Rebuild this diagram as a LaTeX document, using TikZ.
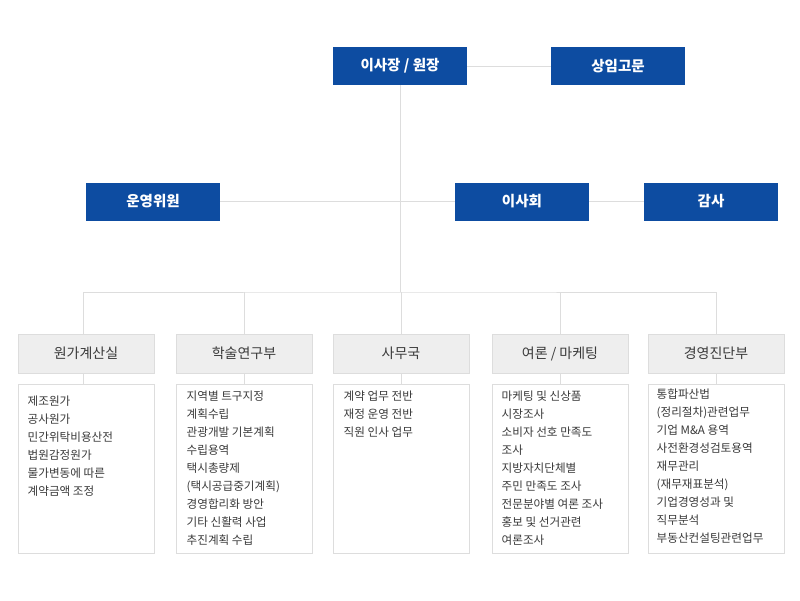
\documentclass[tikz,border=0pt]{standalone}
\usepackage{fontspec}
\setmainfont{Noto Sans CJK KR}
\usepackage{tikz}
\usetikzlibrary{positioning}
\usepackage{xcolor}

\definecolor{orgblue}{HTML}{0D4CA1}
\definecolor{linegray}{HTML}{DDDDDD}
\definecolor{headgray}{HTML}{EEEEEE}
\definecolor{textgray}{HTML}{3A3A3A}

\tikzset{
    topbox/.style={fill=orgblue, text=white, font=\fontsize{14.5}{16}\selectfont\bfseries,
        minimum width=134pt, minimum height=38pt, inner sep=0pt},
    depthead/.style={fill=headgray, draw=linegray, line width=1pt, text=textgray,
        font=\fontsize{14}{16}\selectfont, minimum width=136pt, minimum height=39pt, inner sep=0pt},
    deptbody/.style={fill=white, draw=linegray, line width=1pt,
        minimum width=136pt, minimum height=169pt, inner sep=0pt},
    depttext/.style={anchor=north west, align=left, inner sep=0pt, text=textgray,
        font=\fontsize{11.6}{18}\selectfont},
    link/.style={draw=linegray, line width=1pt}
}

\begin{document}
\begin{tikzpicture}[x=1pt, y=-1pt]
    \useasboundingbox (0,0) rectangle (800,600);

    % Top management
    \node[topbox] (chair) at (400,66) {이사장 / 원장};
    \node[topbox] (advisor) at (618,66) {상임고문};
    \node[topbox] (committee) at (153,201.5) {운영위원};
    \node[topbox] (board) at (522,201.5) {이사회};
    \node[topbox] (audit) at (711,201.5) {감사};

    % Department headers
    \node[depthead] (head1) at (86,353.5) {원가계산실};
    \node[depthead] (head2) at (244,353.5) {학술연구부};
    \node[depthead] (head3) at (401,353.5) {사무국};
    \node[depthead] (head4) at (560,353.5) {여론 / 마케팅};
    \node[depthead] (head5) at (716,353.5) {경영진단부};

    % Department bodies
    \foreach \i in {1,...,5}
        \node[deptbody, below=10pt of head\i] (body\i) {};

    \node[depttext] (list1) at ([xshift=10pt, yshift=-12pt]body1.north west)
        {제조원가\\공사원가\\민간위탁비용산전\\법원감정원가\\물가변동에 따른\\계약금액 조정};
    \node[depttext] (list2) at ([xshift=11pt, yshift=-7pt]body2.north west)
        {지역별 트구지정\\계획수립\\관광개발 기본계획\\수립용역\\택시총량제\\(택시공급중기계획)\\경영합리화 방안\\기타 신활력 사업\\추진계획 수립};
    \node[depttext] (list3) at ([xshift=11pt, yshift=-7pt]body3.north west)
        {계약 업무 전반\\재정 운영 전반\\직원 인사 업무};
    \node[depttext] (list4) at ([xshift=10pt, yshift=-7pt]body4.north west)
        {마케팅 및 신상품\\시장조사\\소비자 선호 만족도\\조사\\지방자치단체별\\주민 만족도 조사\\전문분야별 여론 조사\\홍보 및 선거관련\\여론조사};
    \node[depttext] (list5) at ([xshift=9pt, yshift=-5pt]body5.north west)
        {통합파산법\\(정리절차)관련업무\\기업 M\&A 용역\\사전환경성검토용역\\재무관리\\(재무재표분석)\\기업경영성과 및\\직무분석\\부동산컨설팅관련업무};

    % Connectors
    \coordinate (bus) at (400,292);
    \coordinate (drop1) at (83,334);
    \draw[link] (chair) -- (advisor);
    \draw[link] (committee) -- (board);
    \draw[link] (board) -- (audit);
    \draw[link] (chair) -- (bus);
    \draw[link] (drop1) |- (bus) -| (head5);
    \foreach \i in {2,3,4}
        \draw[link] (head\i) -- (head\i |- bus);
    \draw[link] (head1.south -| drop1) -- (body1.north -| drop1);
    \foreach \i in {2,...,5}
        \draw[link] (head\i) -- (body\i);
\end{tikzpicture}
\end{document}
